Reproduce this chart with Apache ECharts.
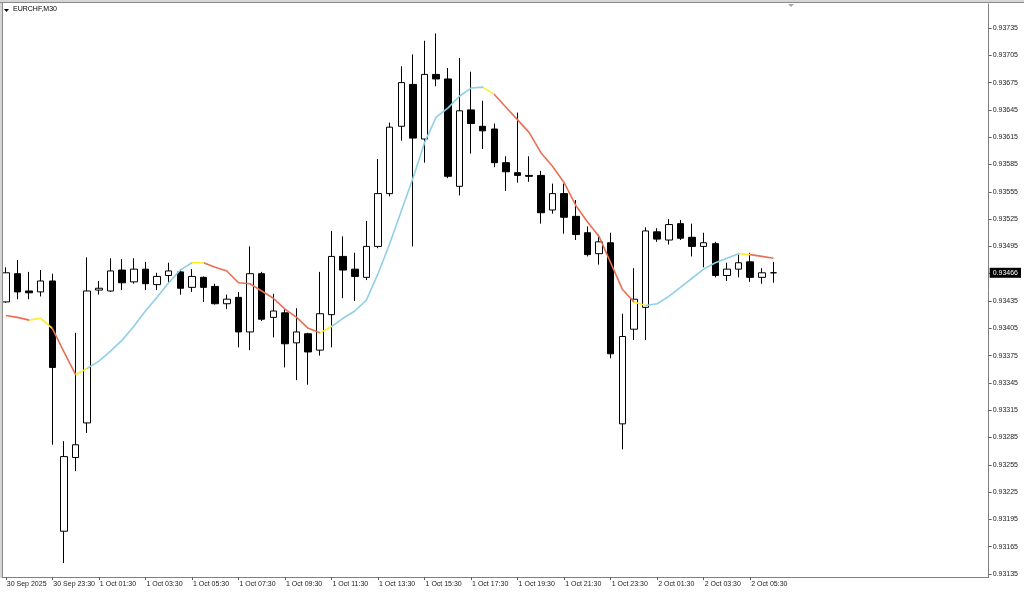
<!DOCTYPE html>
<html><head><meta charset="utf-8">
<script src="https://cdn.jsdelivr.net/npm/echarts@6/dist/echarts.min.js"></script>
<style>html,body{margin:0;padding:0;background:#fff;}#c{width:1024px;height:595px;}</style>
</head><body><div id="c"></div>
<script>
const symbolName = 'EURCHF,M30';
// OHLC (in 1e-5 units, converted below)
const opens  = [93434,93465,93446,93445,93457,93182,93263,93301,93447,93446,93469,93456,93470,93453,93463,93467,93450,93461,93451,93432,93439,93401,93465,93417,93422,93389,93399,93381,93420,93484,93470,93461,93495,93553,93627,93673,93613,93684,93679,93561,93645,93627,93624,93587,93576,93573,93573,93535,93553,93528,93510,93487,93499,93300,93404,93428,93511,93502,93520,93505,93495,93498,93463,93470,93478,93461,93466];
const highs  = [93472,93480,93467,93469,93465,93281,93400,93483,93457,93482,93481,93482,93478,93466,93477,93470,93470,93462,93454,93442,93445,93495,93467,93443,93427,93427,93400,93467,93512,93506,93488,93523,93591,93631,93693,93706,93721,93729,93691,93702,93687,93655,93630,93594,93642,93594,93578,93564,93564,93546,93517,93508,93510,93421,93471,93516,93515,93525,93524,93520,93510,93500,93477,93486,93488,93471,93478];
const lows   = [93433,93437,93437,93440,93277,93147,93248,93290,93442,93445,93447,93454,93447,93447,93455,93442,93445,93434,93431,93426,93384,93381,93413,93395,93362,93348,93343,93375,93384,93438,93435,93458,93493,93550,93611,93495,93587,93671,93570,93551,93597,93602,93582,93556,93565,93566,93520,93531,93509,93502,93484,93475,93372,93272,93392,93392,93500,93497,93502,93484,93472,93461,93457,93461,93456,93454,93455];
const closes = [93466,93445,93444,93457,93362,93264,93277,93446,93449,93468,93455,93470,93454,93462,93468,93449,93462,93450,93432,93437,93401,93465,93415,93424,93388,93401,93379,93421,93484,93469,93462,93495,93553,93626,93675,93614,93684,93679,93572,93644,93630,93622,93587,93577,93573,93572,93532,93553,93527,93508,93486,93500,93377,93396,93437,93512,93503,93519,93504,93495,93499,93463,93470,93477,93461,93466,93466];
// moving average line values
const maValues = [93419,93417,93414,93416,93405,93379,93354,93361,93369,93380,93392,93407,93424,93439,93455,93469,93477,93477,93472,93468,93455,93454,93446,93438,93426,93417,93405,93400,93407,93416,93424,93436,93465,93498,93534,93570,93609,93637,93647,93660,93669,93670,93662,93648,93634,93620,93598,93583,93565,93540,93522,93506,93477,93448,93434,93430,93432,93440,93450,93460,93470,93477,93482,93487,93486,93484,93482];
// trend state of MA segment ending at each bar: d=down, n=neutral, u=up
const maTrend = ['d','d','d','n','n','d','d','n',
  'u','u','u','u','u','u','u','u','u','n',
  'd','d','d','d','d','d','d','d','d','d','n',
  'u','u','u','u','u','u','u','u','u','u','u','u','u','n',
  'd','d','d','d','d','d','d','d','d','d','d','d','n',
  'u','u','u','u','u','u','u','u','n','d','d'];
const yTickValues = [0.93135,0.93165,0.93195,0.93225,0.93255,0.93285,0.93315,0.93345,0.93375,0.93405,0.93435,0.93465,0.93495,0.93525,0.93555,0.93585,0.93615,0.93645,0.93675,0.93705,0.93735];
const xTickLabels = ['30 Sep 2025','30 Sep 23:30','1 Oct 01:30','1 Oct 03:30','1 Oct 05:30','1 Oct 07:30','1 Oct 09:30','1 Oct 11:30','1 Oct 13:30','1 Oct 15:30','1 Oct 17:30','1 Oct 19:30','1 Oct 21:30','1 Oct 23:30','2 Oct 01:30','2 Oct 03:30','2 Oct 05:30'];
const lastPrice = 0.93466;
const barMinutes = 30;
const firstBar = {day:30, mon:'Sep', h:21, m:30};
const emptySlots = 18;

const K = 1e-5;
const n = opens.length;
const cats = [];
{
  let day = firstBar.day, mon = firstBar.mon, t = firstBar.h*60 + firstBar.m;
  for (let i = 0; i < n; i++) {
    const hh = String(Math.floor(t/60)).padStart(2,'0'), mm = String(t%60).padStart(2,'0');
    cats.push(day + ' ' + mon + ' ' + hh + ':' + mm);
    t += barMinutes;
    if (t >= 1440) { t -= 1440; if (mon === 'Sep' && day === 30) { day = 1; mon = 'Oct'; } else day++; }
  }
  for (let i = 0; i < emptySlots; i++) cats.push('');
}
const candleData = opens.map((o,i)=>[o*K, closes[i]*K, lows[i]*K, highs[i]*K]);
const maData = maValues.map(v=>+(v*K).toFixed(5));

const trendColor = {d:'#ea6f55', n:'#fbec2c', u:'#8fd0e6'};
const pieces = [];
{
  let start = 1;
  for (let i = 2; i <= n; i++) {
    if (i === n || maTrend[i] !== maTrend[start]) {
      pieces.push({gte: start-1, lte: i-1, color: trendColor[maTrend[start]]});
      start = i;
    }
  }
}

const yMin = 0.931317, yMax = 0.9376137;
const font = 'Liberation Sans';
const chart = echarts.init(document.getElementById('c'));
chart.setOption({
  animation:false,
  backgroundColor:'#ffffff',
  title:{text:symbolName, left:13, top:6, padding:0, textStyle:{fontSize:7, fontWeight:'normal', color:'#000', fontFamily:font}},
  grid:{left:-3, right:35, top:4, bottom:18},
  xAxis:{
    type:'category', data:cats, boundaryGap:true,
    axisLine:{show:true, lineStyle:{color:'#808080', width:1}},
    axisTick:{show:true, alignWithLabel:true, length:3, interval:(i)=> i%4===0 && i<n, lineStyle:{color:'#606060'}},
    axisLabel:{interval:(i)=> i%4===0 && i<n, formatter:(v,i)=> (i%4===0 && i<n) ? (xTickLabels[i/4]||'') : '', align:'left', margin:4, fontSize:7, color:'#222', fontFamily:font, padding:[0,0,0,1]},
    splitLine:{show:false}
  },
  yAxis:[{
    type:'value', position:'right', min:yMin, max:yMax, scale:true,
    axisLine:{show:true, lineStyle:{color:'#808080'}},
    axisTick:{show:true, length:3, customValues:yTickValues, lineStyle:{color:'#606060'}},
    axisLabel:{customValues:yTickValues, formatter:(v)=>v.toFixed(5), fontSize:7, color:'#222', margin:4, fontFamily:font},
    splitLine:{show:false}
  },{
    type:'value', position:'right', min:yMin, max:yMax, scale:true, z:10,
    axisLine:{show:false}, axisTick:{show:false}, splitLine:{show:false},
    axisLabel:{customValues:[lastPrice], formatter:(v)=>v.toFixed(5), fontSize:7, color:'#fff', backgroundColor:'#000', padding:[2,3,1,3], margin:1, fontFamily:font}
  }],
  visualMap:{type:'piecewise', show:false, dimension:0, seriesIndex:1, pieces:pieces},
  series:[
    {
      type:'candlestick', data:candleData, barWidth:7,
      itemStyle:{color:'#ffffff', color0:'#000000', borderColor:'#000000', borderColor0:'#000000', borderWidth:1},
      markLine:{
        silent:true, symbol:['none','none'], animation:false,
        lineStyle:{color:'#c4c4c4', type:'solid', width:1},
        label:{show:false},
        data:[{yAxis:lastPrice}]
      }
    },
    {
      type:'line', data:maData, showSymbol:false, smooth:false, z:3,
      lineStyle:{width:1.6}
    }
  ],
  graphic:[
    {type:'rect', z:100, shape:{x:0,y:0,width:1024,height:2}, style:{fill:'#d6d6d6'}},
    {type:'rect', z:100, shape:{x:0,y:0,width:2,height:578}, style:{fill:'#d6d6d6'}},
    {type:'line', z:101, shape:{x1:0,y1:2.5,x2:1024,y2:2.5}, style:{stroke:'#8a8a8a', lineWidth:1}},
    {type:'line', z:101, shape:{x1:2.5,y1:2.5,x2:2.5,y2:577.5}, style:{stroke:'#8a8a8a', lineWidth:1}},
    {type:'polygon', z:101, shape:{points:[[4,9],[9,9],[6.5,12]]}, style:{fill:'#000'}},
    {type:'polygon', z:101, shape:{points:[[788,4],[794,4],[791,7]]}, style:{fill:'#a8a8a8'}}
  ]
});
</script></body></html>
